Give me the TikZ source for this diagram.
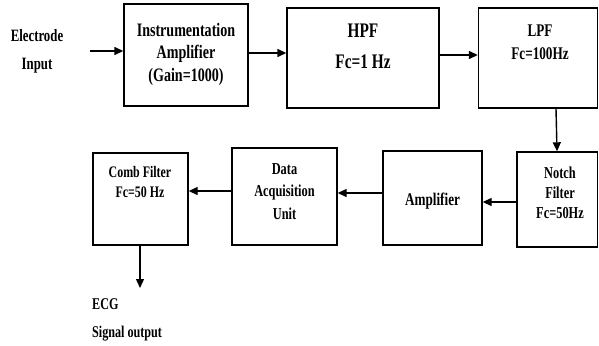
\documentclass[tikz,border=0pt]{standalone}
\usepackage{fontspec}
\newfontfamily\lab[FakeStretch=0.74]{Liberation Serif}
\usetikzlibrary{arrows.meta}
\newcommand{\fs}[2]{\lab\bfseries\fontsize{#1}{#2}\selectfont}
\begin{document}
\begin{tikzpicture}[x=1pt,y=-1pt,
  box/.style={draw,line width=1.4pt,rectangle,inner sep=0pt},
  txt/.style={align=center,inner sep=0pt,anchor=north},
  arr/.style={line width=1.4pt,-{Triangle[length=9pt,width=8pt]}}]
\useasboundingbox (0,0) rectangle (599,345);
% boxes
\node[box,minimum width=124pt,minimum height=102pt] (ia) at (186,55) {};
\node[box,minimum width=152pt,minimum height=100pt] (hpf) at (363,58) {};
\node[box,minimum width=119pt,minimum height=100pt] (lpf) at (538,58) {};
\node[box,minimum width=80.5pt,minimum height=95pt] (notch) at (557.25,199.5) {};
\node[box,minimum width=99pt,minimum height=94pt] (amp) at (432.5,198) {};
\node[box,minimum width=105pt,minimum height=97pt] (daq) at (284.5,196.5) {};
\node[box,minimum width=95pt,minimum height=92pt] (comb) at (140.5,199) {};
% texts
\node[txt,font={\fs{17.3}{28}}] (elec) at (37,29) {Electrode\\Input};
\node[txt,font={\fs{19}{22.5}}] (iat) at (186,23) {Instrumentation\\Amplifier\\(Gain=1000)};
\node[txt,font={\fs{20.7}{31}}] (hpft) at (363,24) {HPF\\Fc=1 Hz};
\node[txt,font={\fs{17.8}{23}}] (lpft) at (540,25) {LPF\\Fc=100Hz};
\node[txt,font={\fs{16.7}{20}}] (notcht) at (560,167) {Notch\\Filter\\Fc=50Hz};
\node[txt,font={\fs{17.8}{20}}] (ampt) at (432.5,193) {Amplifier};
\node[txt,font={\fs{16.7}{22.5}}] (daqt) at (284.5,163) {Data\\Acquisition\\Unit};
\node[txt,font={\fs{16.1}{20}}] (combt) at (140,166) {Comb Filter\\Fc=50 Hz};
\node[align=left,inner sep=0pt,anchor=north west,font={\fs{16.4}{28}}] (ecg) at (92,298) {ECG\\Signal output};
% connectors
\coordinate (ein) at (90,51);
\coordinate (eout) at (140,288);
\draw[arr] (ein) -- ([yshift=4pt]ia.west);
\draw[arr] ([yshift=2pt]ia.east) -- ([yshift=5pt]hpf.west);
\draw[arr] ([yshift=3pt]hpf.east) -- ([yshift=3pt]lpf.west);
\draw[arr] ([xshift=18pt]lpf.south) -- ([xshift=-0.25pt]notch.north);
\draw[arr] ([yshift=-2.5pt]notch.west) -- ([yshift=-4pt]amp.east);
\draw[arr] ([yshift=5pt]amp.west) -- ([yshift=3.5pt]daq.east);
\draw[arr] ([yshift=5.5pt]daq.west) -- ([yshift=8pt]comb.east);
\draw[arr] ([xshift=-0.5pt]comb.south) -- (eout);
\end{tikzpicture}
\end{document}
